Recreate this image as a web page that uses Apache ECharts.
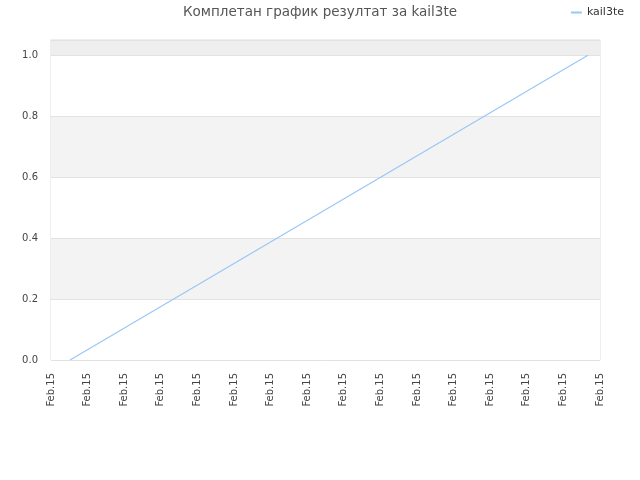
<!DOCTYPE html>
<html><head><meta charset="utf-8">
<script src="https://cdn.jsdelivr.net/npm/echarts@6/dist/echarts.min.js"></script>
<style>html,body{margin:0;padding:0;background:#fff}#c{width:640px;height:480px}</style>
</head><body><div id="c"></div>
<script>
var titleText = 'Комплетан график резултат за kail3te';
var seriesName = 'kail3te';
var xTickLabel = 'Feb.15';
var xValues = [0.52, 14.67];
var yValues = [0, 1];
var yTicks = [0, 0.2, 0.4, 0.6, 0.8, 1.0];

var chart = echarts.init(document.getElementById('c'));
chart.setOption({
  animation: false,
  textStyle: {fontFamily: 'DejaVu Sans'},
  title: {text: titleText, left: 'center', top: 5, padding: [0, 0, 0, 0],
    textStyle: {fontSize: 13.5, fontWeight: 'normal', color: '#555', fontFamily: 'DejaVu Sans'}},
  legend: {data: [seriesName], right: 16, top: 7, itemWidth: 11, itemHeight: 2, itemGap: 6,
    icon: 'rect', padding: 0,
    textStyle: {fontSize: 11, color: '#333', fontFamily: 'DejaVu Sans'}},
  grid: {left: 51, right: 40, top: 40, bottom: 120, show: true, borderColor: '#ddd', borderWidth: 1, backgroundColor: 'transparent'},
  xAxis: {type: 'value', min: 0, max: 15, interval: 1,
    axisLine: {show: false}, axisTick: {show: false},
    splitLine: {show: false},
    axisLabel: {rotate: 90, fontSize: 10, color: '#444', margin: 13,
      formatter: function(){ return xTickLabel; }}},
  yAxis: {type: 'value', min: 0, max: 1.05, interval: 0.2,
    axisLine: {show: false}, axisTick: {show: false},
    splitLine: {show: true, lineStyle: {color: '#e2e2e2'}},
    splitArea: {show: true, areaStyle: {color: ['#ffffff','#f3f3f3','#ffffff','#f3f3f3','#ffffff','#eeeeee']}},
    axisLabel: {fontSize: 10, color: '#444', margin: 13,
      formatter: function(v){ return yTicks.indexOf(Math.round(v*10)/10) >= 0 && Math.abs(v - Math.round(v*10)/10) < 1e-6 ? v.toFixed(1) : ''; }}},
  series: [{name: seriesName, type: 'line', data: xValues.map(function(x, i){ return [x, yValues[i]]; }),
    showSymbol: false, symbol: 'none', lineStyle: {width: 1.2, color: '#99c7f5'}, itemStyle: {color: '#99c7f5'}}]
});
</script></body></html>
